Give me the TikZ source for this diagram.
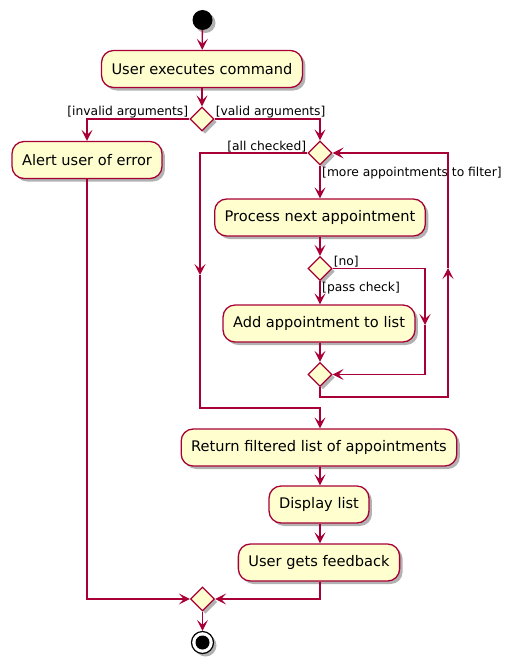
\documentclass[tikz,border=0pt]{standalone}
\usepackage{fontspec}
\setmainfont{DejaVu Sans}
\usetikzlibrary{shapes.geometric,arrows.meta,shadows}

\definecolor{umlred}{HTML}{A80036}
\definecolor{umlfill}{HTML}{FEFECE}

\begin{document}
\begin{tikzpicture}[x=1pt, y=-1pt,
    every node/.style={font=\fontsize{14.6}{18}\selectfont},
    umlshadow/.style={drop shadow={shadow xshift=3pt, shadow yshift=-3pt, fill=black, opacity=0.3}},
    action/.style={draw=umlred, fill=umlfill, line width=1.3pt, rounded corners=12pt,
        minimum height=37pt, inner xsep=10pt, umlshadow},
    branch/.style={diamond, aspect=1, draw=umlred, fill=umlfill, line width=1.3pt,
        minimum size=24pt, inner sep=0pt, umlshadow},
    guard/.style={font=\fontsize{12.3}{14}\selectfont, inner sep=1pt},
    flow/.style={draw=umlred, line width=1.3pt, -{Stealth[length=11pt, width=11pt, inset=5pt]}},
    startdot/.style={circle, fill=black, minimum size=20pt, inner sep=0pt, umlshadow},
    enddot/.style={circle, draw=black, fill=white, line width=1.2pt, minimum size=22pt, inner sep=0pt, umlshadow}]

\useasboundingbox (0,0) rectangle (516,669);

\node[startdot] (start) at (202.5,20) {};
\node[action] (exec) at (202,69) {User executes command};
\node[branch] (chk) at (202,119) {};
\node[action] (alert) at (87,160) {Alert user of error};
\node[branch] (loop) at (320,153) {};
\node[action] (process) at (320,217.5) {Process next appointment};
\node[branch] (pass) at (320,268.5) {};
\node[action] (add) at (319,323.5) {Add appointment to list};
\node[branch] (join) at (320,374.5) {};
\node[action] (ret) at (319,447.5) {Return filtered list of appointments};
\node[action] (display) at (319,504.5) {Display list};
\node[action] (feedback) at (319,562.5) {User gets feedback};
\node[branch] (merge) at (202.5,599) {};
\node[enddot] (stop) at (202.5,642.5) {};
\fill (stop) circle (7pt);

\coordinate (noTop) at (425,268.5);
\coordinate (noMid) at (425,325);
\coordinate (noBot) at (425,374.5);
\coordinate (backBot) at (448,397);
\coordinate (backMid) at (448,268);
\coordinate (backTop) at (448,153);
\coordinate (doneTop) at (200,153);
\coordinate (doneMid) at (200,275);
\coordinate (doneBot) at (200,408);
\coordinate (doneEnd) at (320,408);

\draw[flow] (start) -- (exec);
\draw[flow] (exec) -- (chk);
\draw[flow] (chk.west) -| (alert.north);
\draw[flow] (chk.east) -| (loop.north);
\node[guard, anchor=south east] at (chk.west) {[invalid arguments]};
\node[guard, anchor=south west] at (chk.east) {[valid arguments]};

\draw[flow] (loop.south) -- (process.north);
\node[guard, anchor=north west] at ([xshift=1pt]loop.south) {[more appointments to filter]};
\draw[flow] (process.south) -- (pass.north);
\draw[flow] (pass.south) -- (add.north -| pass.south);
\node[guard, anchor=north west] at ([xshift=1pt]pass.south) {[pass check]};
\draw[flow] (pass.east) -- (noTop) -- (noMid);
\draw[flow] (noMid) -- (noBot) -- (join.east);
\node[guard, anchor=south west] at (pass.east) {[no]};
\draw[flow] (add.south -| join.north) -- (join.north);

\draw[flow] (join.south) |- (backBot) -- (backMid);
\draw[flow] (backMid) -- (backTop) -- (loop.east);
\draw[flow] (loop.west) -- (doneTop) -- (doneMid);
\draw[flow] (doneMid) -- (doneBot) -- (doneEnd) -- (ret.north -| doneEnd);
\node[guard, anchor=south east] at (loop.west) {[all checked]};

\draw[flow] (ret.south -| doneEnd) -- (display.north -| doneEnd);
\draw[flow] (display.south -| doneEnd) -- (feedback.north -| doneEnd);
\draw[flow] (feedback.south -| doneEnd) |- (merge.east);
\draw[flow] (alert.south) |- (merge.west);
\draw[flow] (merge) -- (stop);
\end{tikzpicture}
\end{document}
